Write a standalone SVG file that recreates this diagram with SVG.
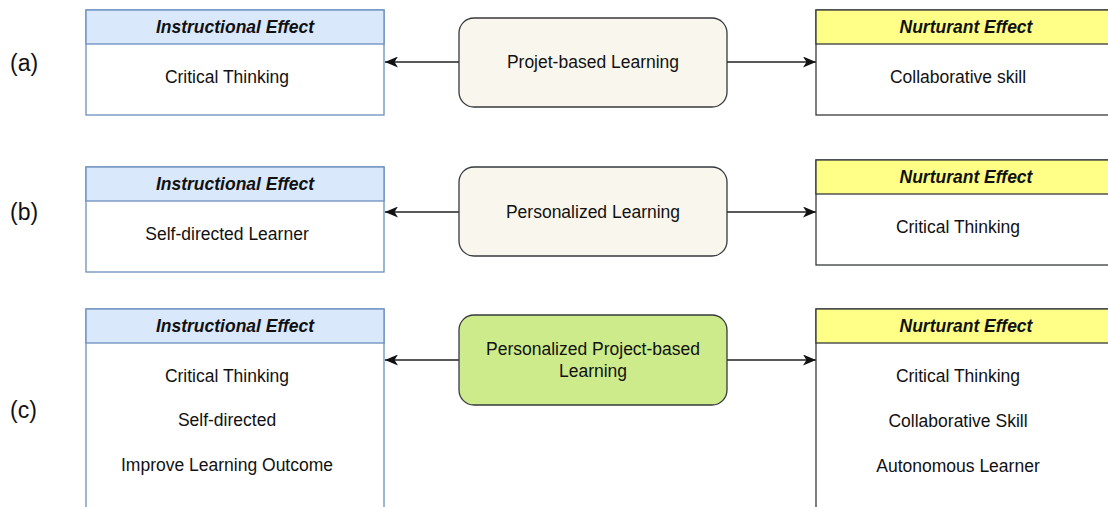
<svg xmlns="http://www.w3.org/2000/svg" width="1108" height="507" viewBox="0 0 1108 507">
<style>
text{font-family:"Liberation Sans",Arial,Helvetica,sans-serif;fill:#111;}
.lbl{font-size:23px;}
.t{font-size:17.5px;text-anchor:middle;}
.h{font-size:17.5px;font-weight:bold;font-style:italic;text-anchor:middle;}
.ib{fill:#ffffff;stroke:#6c8ebf;stroke-width:1.3;}
.ih{fill:#dae8fc;stroke:#6c8ebf;stroke-width:1.3;}
.nb{fill:#ffffff;stroke:#36393d;stroke-width:1.3;}
.nh{fill:#ffff88;stroke:#36393d;stroke-width:1.3;}
.c{fill:#f9f7ed;stroke:#36393d;stroke-width:1.3;}
.cg{fill:#cdeb8b;stroke:#36393d;stroke-width:1.3;}
.e{fill:none;stroke:#222;stroke-width:1.6;}
</style>
<defs>
<marker id="ah" viewBox="0 0 13 11" refX="13" refY="5.5" markerWidth="13" markerHeight="11" markerUnits="userSpaceOnUse" orient="auto">
<path d="M0,0 L13,5.5 L0,11 L3.5,5.5 Z" fill="#111"/>
</marker>
</defs>

<text class="lbl" x="10" y="71">(a)</text>
<text class="lbl" x="10" y="220">(b)</text>
<text class="lbl" x="10" y="418">(c)</text>

<g id="connectors">
<line class="e" x1="459" y1="62" x2="385" y2="62" marker-end="url(#ah)"/>
<line class="e" x1="727" y1="62" x2="816" y2="62" marker-end="url(#ah)"/>
<line class="e" x1="459" y1="212" x2="385" y2="212" marker-end="url(#ah)"/>
<line class="e" x1="727" y1="212" x2="816" y2="212" marker-end="url(#ah)"/>
<line class="e" x1="459" y1="360" x2="385" y2="360" marker-end="url(#ah)"/>
<line class="e" x1="727" y1="360" x2="816" y2="360" marker-end="url(#ah)"/>
</g>

<g id="a-instructional">
<rect class="ib" x="86" y="10" width="298" height="105"/>
<rect class="ih" x="86" y="10" width="298" height="34"/>
<text class="h" x="235" y="33">Instructional Effect</text>
<text class="t" x="227" y="83">Critical Thinking</text>
</g>
<g id="a-center">
<rect class="c" x="459" y="18" width="268" height="89" rx="15"/>
<text class="t" x="593" y="68">Projet-based Learning</text>
</g>
<g id="a-nurturant">
<rect class="nb" x="816" y="10" width="298" height="105"/>
<rect class="nh" x="816" y="10" width="298" height="34"/>
<text class="h" x="966" y="33">Nurturant Effect</text>
<text class="t" x="958" y="83">Collaborative skill</text>
</g>

<g id="b-instructional">
<rect class="ib" x="86" y="167" width="298" height="105"/>
<rect class="ih" x="86" y="167" width="298" height="34"/>
<text class="h" x="235" y="190">Instructional Effect</text>
<text class="t" x="227" y="240">Self-directed Learner</text>
</g>
<g id="b-center">
<rect class="c" x="459" y="167" width="268" height="89" rx="15"/>
<text class="t" x="593" y="218">Personalized Learning</text>
</g>
<g id="b-nurturant">
<rect class="nb" x="816" y="160" width="298" height="105"/>
<rect class="nh" x="816" y="160" width="298" height="34"/>
<text class="h" x="966" y="183">Nurturant Effect</text>
<text class="t" x="958" y="233">Critical Thinking</text>
</g>

<g id="c-instructional">
<rect class="ib" x="86" y="309" width="298" height="220"/>
<rect class="ih" x="86" y="309" width="298" height="34"/>
<text class="h" x="235" y="332">Instructional Effect</text>
<text class="t" x="227" y="382">Critical Thinking</text>
<text class="t" x="227" y="426">Self-directed</text>
<text class="t" x="227" y="471">Improve Learning Outcome</text>
</g>
<g id="c-center">
<rect class="cg" x="459" y="315" width="268" height="90" rx="15"/>
<text class="t" x="593" y="355">Personalized Project-based</text>
<text class="t" x="593" y="377">Learning</text>
</g>
<g id="c-nurturant">
<rect class="nb" x="816" y="309" width="298" height="220"/>
<rect class="nh" x="816" y="309" width="298" height="34"/>
<text class="h" x="966" y="332">Nurturant Effect</text>
<text class="t" x="958" y="382">Critical Thinking</text>
<text class="t" x="958" y="427">Collaborative Skill</text>
<text class="t" x="958" y="472">Autonomous Learner</text>
</g>
</svg>
